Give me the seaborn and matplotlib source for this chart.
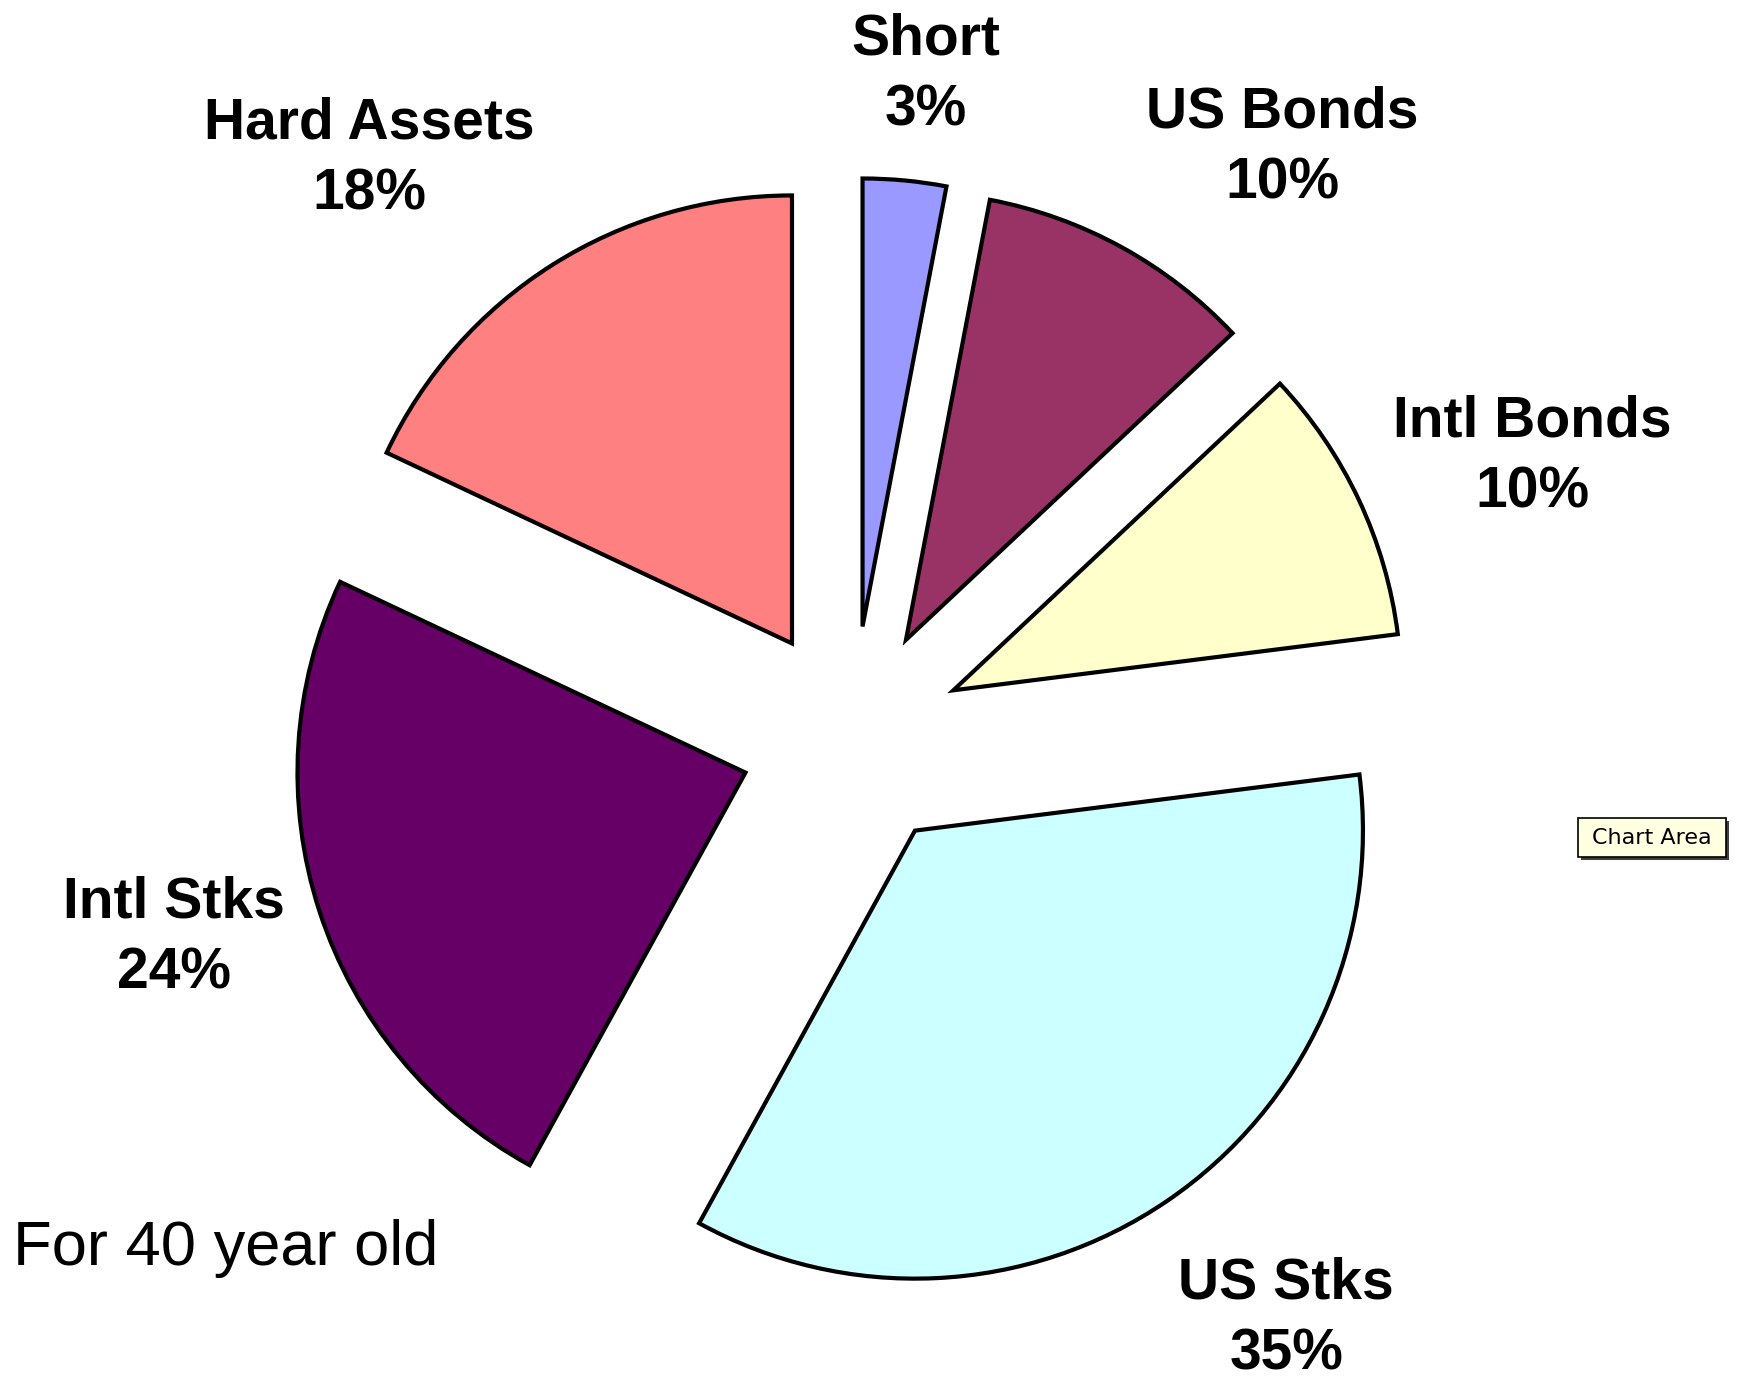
import matplotlib
matplotlib.use("Agg")
import matplotlib.pyplot as plt
from matplotlib.patches import Rectangle
import seaborn as sns

# asset allocation, clockwise from 12 o'clock
categories = ["Short", "US Bonds", "Intl Bonds", "US Stks", "Intl Stks", "Hard Assets"]
shares = [3, 10, 10, 35, 24, 18]
colors = ["#9999FF", "#993366", "#FFFFCC", "#CCFFFF", "#660066", "#FF8080"]

# label centres, in pie-radius units from the pie centre
label_xy = [(0.165, 1.48), (0.96, 1.317), (1.518, 0.627),
            (0.969, -1.297), (-1.513, -0.446), (-1.078, 1.292)]

sns.set_style("white")
plt.rcParams["font.family"] = ["Liberation Sans", "DejaVu Sans"]
plt.rcParams["text.color"] = "black"

W, H = 1741, 1380
fig = plt.figure(figsize=(W / 100, H / 100), dpi=100)
ax = fig.add_axes([0, 0, 1, 1])

labels = [f"{c}\n{s}%" for c, s in zip(categories, shares)]
wedges, texts = ax.pie(
    shares,
    labels=labels,
    colors=colors,
    startangle=90,
    counterclock=False,
    explode=[0.25] * len(shares),
    wedgeprops=dict(edgecolor="black", linewidth=3),
    textprops=dict(fontsize=41, fontweight="bold", ha="center", va="center",
                   linespacing=1.4, color="black"),
)
for t, (x, y) in zip(texts, label_xy):
    t.set_position((x, y))
    t.set_horizontalalignment("center")
    t.set_verticalalignment("center")

# 1 unit = 448 px, pie centre at (852, 738) px from top-left
ax.set_xlim(-852 / 448, (W - 852) / 448)
ax.set_ylim(-(H - 738) / 448, 738 / 448)
ax.set_aspect("equal")
ax.axis("off")

fig.text(13 / W, 1 - 1249 / H, "For 40 year old", fontsize=45.5,
         ha="left", va="center", color="black")

# "Chart Area" tooltip with its drop shadow
fig.patches.append(Rectangle((1581 / W, 1 - 860 / H), 148 / W, 39 / H,
                             transform=fig.transFigure, facecolor="#404040",
                             edgecolor="none", zorder=5))
fig.patches.append(Rectangle((1578 / W, 1 - 857 / H), 148 / W, 39 / H,
                             transform=fig.transFigure, facecolor="#FFFFE1",
                             edgecolor="black", linewidth=1.2, zorder=6))
fig.text(1652 / W, 1 - 838 / H, "Chart Area", fontsize=16,
         family="DejaVu Sans", ha="center", va="center", color="black",
         zorder=7)

fig.savefig("out.png", dpi=100, facecolor="white")
